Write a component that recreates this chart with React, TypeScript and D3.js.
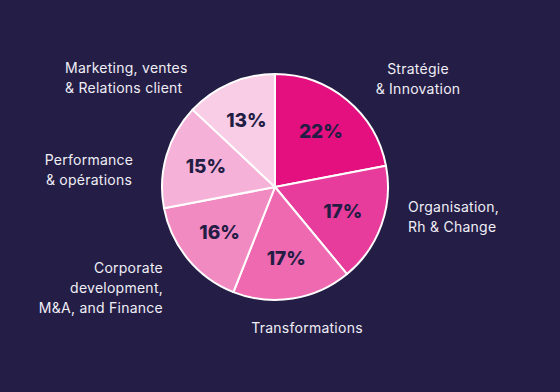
import React from "react";
import * as d3 from "d3";

const categories = [
  "Stratégie & Innovation",
  "Organisation, Rh & Change",
  "Transformations",
  "Corporate development, M&A, and Finance",
  "Performance & opérations",
  "Marketing, ventes & Relations client",
];
const values = [22, 17, 17, 16, 15, 13];
const colors = ["#E5107F", "#E83C9C", "#EE69B0", "#F28AC2", "#F6B1D9", "#F9CDE6"];
const labelLines = [
  ["Stratégie", "& Innovation"],
  ["Organisation,", "Rh & Change"],
  ["Transformations"],
  ["Corporate", "development,", "M&A, and Finance"],
  ["Performance", "& opérations"],
  ["Marketing, ventes", "& Relations client"],
];

const W = 560;
const H = 392;
const BG = "#241E47";
const cx = 275;
const cy = 187;
const R = 113;

// label layout: [x, first baseline y, anchor]
const labelPos: [number, number, string][] = [
  [418, 74, "middle"],
  [408, 212, "start"],
  [307, 333, "middle"],
  [163, 273, "end"],
  [89, 165, "middle"],
  [65, 73, "start"],
];

export default function App() {
  const pie = d3.pie<number>().sort(null).value((d) => d);
  const arcs = pie(values);
  const arc = d3.arc<d3.PieArcDatum<number>>().innerRadius(0).outerRadius(R);
  const labelArc = d3.arc<d3.PieArcDatum<number>>().innerRadius(72).outerRadius(72);
  const font = "Inter, 'Noto Sans', sans-serif";
  return (
    <svg
      width={W}
      height={H}
      style={{ position: "absolute", left: 0, top: 0, display: "block" }}
    >
      <rect width={W} height={H} fill={BG} />
      <g transform={`translate(${cx},${cy})`}>
        {arcs.map((a, i) => (
          <path
            key={categories[i]}
            d={arc(a) || ""}
            fill={colors[i]}
            stroke="#FFFFFF"
            strokeWidth={2}
            strokeLinejoin="round"
          />
        ))}
        {arcs.map((a, i) => {
          const [x, y] = labelArc.centroid(a);
          return (
            <text
              key={"p" + i}
              x={x}
              y={y}
              textAnchor="middle"
              dominantBaseline="central"
              fontFamily={font}
              fontWeight={800}
              fontSize={19}
              fill="#231D45"
            >
              {values[i]}%
            </text>
          );
        })}
      </g>
      {labelLines.map((lines, i) => (
        <text
          key={"l" + i}
          x={labelPos[i][0]}
          y={labelPos[i][1]}
          textAnchor={labelPos[i][2]}
          fontFamily={font}
          fontSize={14}
          letterSpacing={0.25}
          fill="#F0EEF5"
        >
          {lines.map((ln, j) => (
            <tspan key={j} x={labelPos[i][0]} y={labelPos[i][1] + j * 20}>
              {ln}
            </tspan>
          ))}
        </text>
      ))}
    </svg>
  );
}
